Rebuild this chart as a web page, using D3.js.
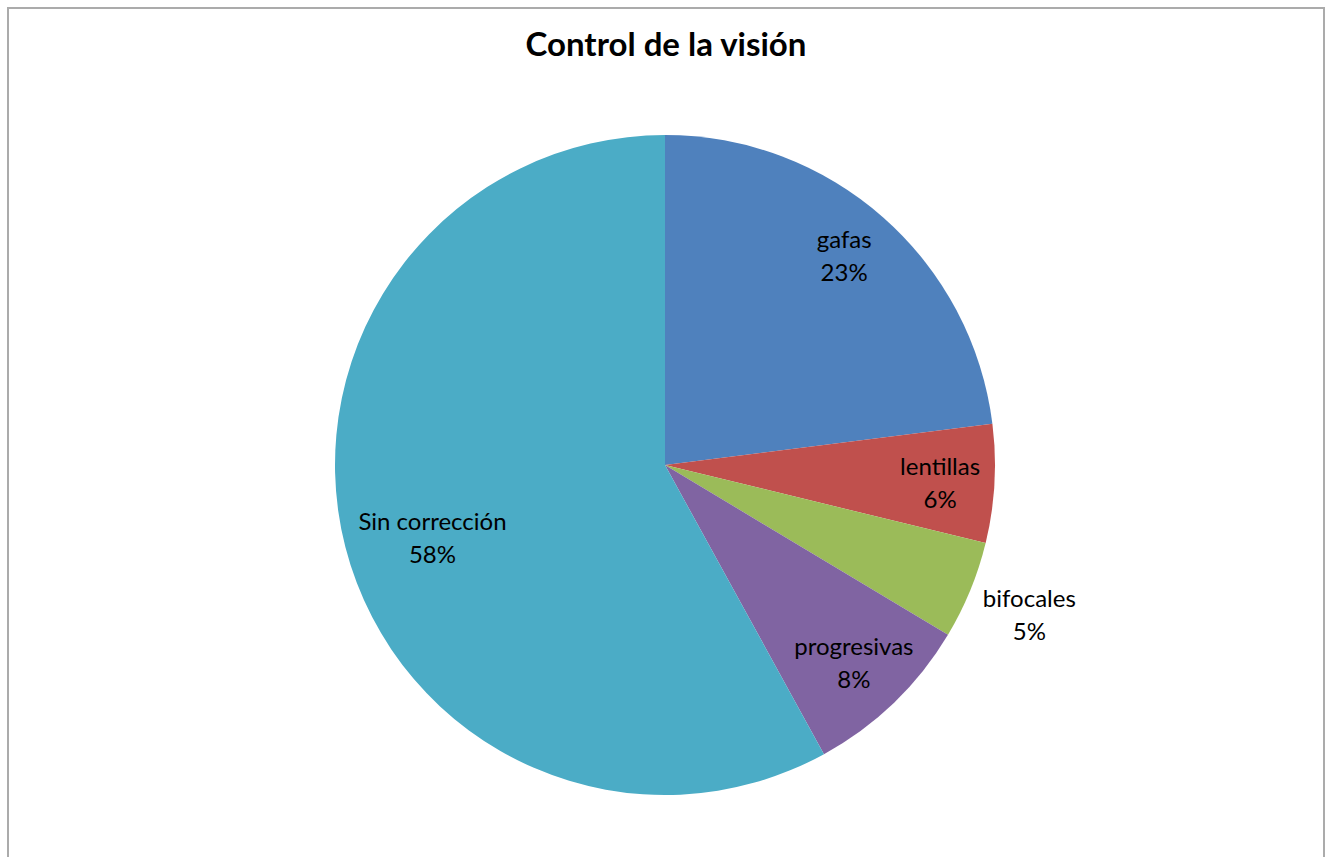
<!DOCTYPE html>
<html>
<head>
<meta charset="utf-8">
<script src="https://cdn.jsdelivr.net/npm/d3@7"></script>
<style>
  body { margin: 0; background: #fff; }
  text { font-family: Lato, "Open Sans", sans-serif; }
</style>
</head>
<body>
<div class="chart"></div>
<script>
const width = 1331;
const height = 857;

// slice values (labels show rounded %)
const categories = ["gafas", "lentillas", "bifocales", "progresivas", "Sin corrección"];
const values = [23.0, 5.8, 4.8, 8.4, 58.0];
const percentLabels = ["23%", "6%", "5%", "8%", "58%"];
const colors = ["#4F81BD", "#C0504D", "#9BBB59", "#8064A2", "#4BACC6"];

const svg = d3.select(".chart")
	.append("svg")
	.attr("width", width)
	.attr("height", height);

svg.append("rect")
	.attr("x", 8)
	.attr("y", 8)
	.attr("width", 1316)
	.attr("height", 870)
	.attr("fill", "#fff")
	.attr("stroke", "#ababab")
	.attr("stroke-width", 2);

svg.append("text")
	.attr("x", 666)
	.attr("y", 56)
	.attr("text-anchor", "middle")
	.style("font-size", "33px")
	.style("font-weight", "bold")
	.text("Control de la visión");

const cx = 665, cy = 465, radius = 330;

const data = categories.map((c, i) => ({ name: c, value: values[i], pct: percentLabels[i], color: colors[i] }));

const pie = d3.pie().sort(null).value(d => d.value);
const arc = d3.arc().innerRadius(0).outerRadius(radius);

const g = svg.append("g").attr("transform", `translate(${cx},${cy})`);
const arcs = pie(data);

g.selectAll(".slice")
	.data(arcs)
	.enter()
	.append("path")
	.attr("class", "slice")
	.attr("d", arc)
	.attr("fill", d => d.data.color);

// label positions: radius fraction along the mid-angle, plus a small nudge
const labelRadius = [0.83, 0.835, 1.2, 0.825, 0.74];
const nudge = [[-2, -4], [0, 2], [-2, 0], [0, 2], [4, 12]];
const labels = g.selectAll(".label")
	.data(arcs)
	.enter()
	.append("text")
	.attr("class", "label")
	.attr("text-anchor", "middle")
	.style("font-size", "24px")
	.attr("fill", "#000")
	.attr("transform", (d, i) => {
		const a = (d.startAngle + d.endAngle) / 2;
		const r = radius * labelRadius[i];
		return `translate(${Math.sin(a) * r + nudge[i][0]},${-Math.cos(a) * r + nudge[i][1]})`;
	});

labels.append("tspan")
	.attr("x", 0)
	.attr("dy", -8)
	.text(d => d.data.name);
labels.append("tspan")
	.attr("x", 0)
	.attr("dy", 33)
	.text(d => d.data.pct);
</script>
</body>
</html>
